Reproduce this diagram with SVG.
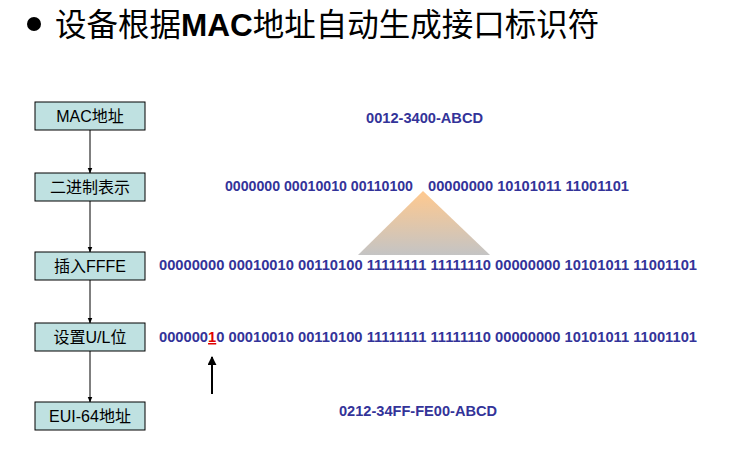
<svg xmlns="http://www.w3.org/2000/svg" width="729" height="454" viewBox="0 0 729 454">
  <defs>
    <linearGradient id="wedgeFill" x1="0" y1="0" x2="0" y2="1">
      <stop offset="0" stop-color="#FFC98F"/>
      <stop offset="1" stop-color="#C4C4C4"/>
    </linearGradient>
    <marker id="arrowHead" viewBox="0 0 10 10" refX="9" refY="5" markerWidth="6" markerHeight="6" orient="auto">
      <path d="M0,1 L10,5 L0,9 Z" fill="#000"/>
    </marker>
    <marker id="arrowHeadBold" viewBox="0 0 10 10" refX="9" refY="5" markerWidth="4.5" markerHeight="4.5" orient="auto">
      <path d="M0,0 L10,5 L0,10 Z" fill="#000"/>
    </marker>
    <style>
      .step rect { fill: #BFE1E1; stroke: #000; stroke-width: 1; }
      .step text { font-family: "Liberation Sans", "Noto Sans CJK SC", sans-serif; font-size: 16px; fill: #000; text-anchor: middle; }
      .bits { font-family: "Liberation Sans", Arial, sans-serif; font-weight: bold; font-size: 15px; fill: #333399; }
      .flow { stroke: #000; stroke-width: 1; fill: none; marker-end: url(#arrowHead); }
      .title { font-family: "Liberation Sans", "Noto Sans CJK SC", sans-serif; font-size: 31.5px; fill: #000; }
    </style>
  </defs>

  <rect width="729" height="454" fill="#fff"/>

  <!-- heading -->
  <g id="title">
    <circle cx="34" cy="24" r="7" fill="#000"/>
    <text class="title" x="55" y="36">设备根据<tspan font-weight="bold">MAC</tspan>地址自动生成接口标识符</text>
  </g>

  <!-- connectors between the steps -->
  <g id="connectors">
    <line class="flow" x1="90" y1="130" x2="90" y2="173"/>
    <line class="flow" x1="90" y1="201" x2="90" y2="252"/>
    <line class="flow" x1="90" y1="280" x2="90" y2="323"/>
    <line class="flow" x1="90" y1="351" x2="90" y2="402"/>
    <line x1="212" y1="394" x2="212" y2="357" stroke="#000" stroke-width="2" marker-end="url(#arrowHeadBold)"/>
  </g>

  <!-- processing steps -->
  <g id="step-mac" class="step">
    <rect x="35" y="102" width="110" height="28"/>
    <text x="90" y="122">MAC地址</text>
  </g>
  <g id="step-binary" class="step">
    <rect x="35" y="173" width="110" height="28"/>
    <text x="90" y="193">二进制表示</text>
  </g>
  <g id="step-fffe" class="step">
    <rect x="35" y="252" width="110" height="28"/>
    <text x="90" y="272">插入FFFE</text>
  </g>
  <g id="step-ul" class="step">
    <rect x="35" y="323" width="110" height="28"/>
    <text x="90" y="343">设置U/L位</text>
  </g>
  <g id="step-eui" class="step">
    <rect x="35" y="402" width="110" height="28"/>
    <text x="90" y="422">EUI-64地址</text>
  </g>

  <!-- insertion wedge -->
  <polygon id="wedge" points="423,191 358,255 490,255" fill="url(#wedgeFill)"/>

  <!-- address values -->
  <g id="values">
    <text class="bits" x="366" y="123" textLength="117" lengthAdjust="spacingAndGlyphs">0012-3400-ABCD</text>
    <text class="bits" x="225" y="191" textLength="188" lengthAdjust="spacingAndGlyphs">0000000 00010010 00110100</text>
    <text class="bits" x="428" y="191" textLength="201" lengthAdjust="spacingAndGlyphs">00000000 10101011 11001101</text>
    <text class="bits" x="159" y="270" textLength="538" lengthAdjust="spacingAndGlyphs">00000000 00010010 00110100 11111111 11111110 00000000 10101011 11001101</text>
    <text class="bits" x="159" y="342" textLength="538" lengthAdjust="spacingAndGlyphs">000000<tspan fill="#E00000" text-decoration="underline">1</tspan>0 00010010 00110100 11111111 11111110 00000000 10101011 11001101</text>
    <text class="bits" x="339" y="416" textLength="158" lengthAdjust="spacingAndGlyphs">0212-34FF-FE00-ABCD</text>
  </g>
</svg>
